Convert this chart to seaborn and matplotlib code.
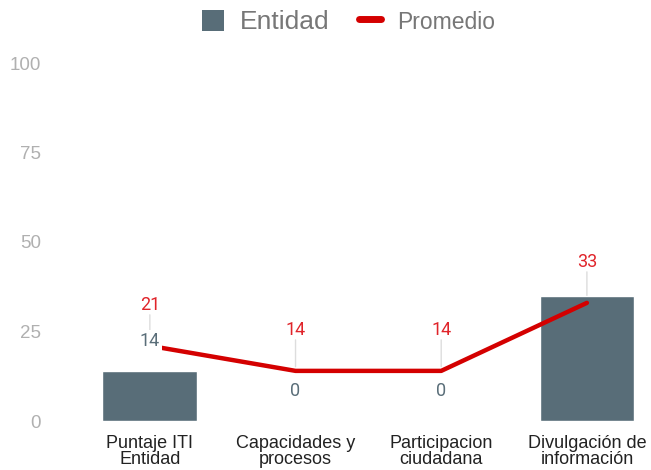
import matplotlib
matplotlib.use("Agg")
import matplotlib.pyplot as plt
from matplotlib.lines import Line2D
from matplotlib.patches import Patch
import seaborn as sns
import pandas as pd

categorias = ["Puntaje ITI\nEntidad", "Capacidades y\nprocesos",
              "Participacion\nciudadana", "Divulgación de\ninformación"]
entidad = [14, 0, 0, 35]
promedio = [21, 14, 14, 33]
etiquetas_entidad = ["14", "0", "0", None]
yticks = [0, 25, 50, 75, 100]

color_bar = "#586d78"
color_line = "#d40000"
color_red_text = "#e0242a"

sns.set_theme(style="white")
plt.rcParams["font.family"] = ["Liberation Sans", "DejaVu Sans"]

fig = plt.figure(figsize=(6.51, 4.70), dpi=100)
ax = fig.add_axes([77 / 651, 49 / 470, 1 - 77 / 651, (421 - 63) / 470])

df = pd.DataFrame({"cat": categorias, "entidad": entidad})
sns.barplot(data=df, x="cat", y="entidad", color=color_bar, width=0.65,
            saturation=1, ax=ax, zorder=2)
sns.lineplot(x=list(range(len(promedio))), y=promedio, color=color_line,
             linewidth=3.2, ax=ax, zorder=4)

ax.set_xlim(-0.5, 3.44)
ax.set_ylim(0, 100)
ax.set_yticks(yticks)
ax.set_yticklabels([str(t) for t in yticks], color="#b0b0b0", fontsize=13.5)
ax.tick_params(axis="y", pad=26, length=0)
ax.tick_params(axis="x", length=0, pad=10, labelsize=13, labelcolor="#222222")
for t in ax.get_xticklabels():
    t.set_linespacing(0.95)
ax.set_xlabel("")
ax.set_ylabel("")
for s in ax.spines.values():
    s.set_visible(False)
ax.grid(False)

# value labels for the average line, with light leader lines
for i, v in enumerate(promedio):
    ax.annotate(str(v), xy=(i, v), xytext=(0, 41), textcoords="offset pixels",
                ha="center", va="center", color=color_red_text, fontsize=13,
                family=["Roboto", "DejaVu Sans"], zorder=5)
    ax.annotate("", xy=(i, v), xytext=(0, 31), textcoords="offset pixels",
                arrowprops=dict(arrowstyle="-", color="#dddddd", lw=1,
                                shrinkA=0, shrinkB=3), zorder=1)

# value labels for the bars
for i, (v, lab) in enumerate(zip(entidad, etiquetas_entidad)):
    if lab is None:
        continue
    ax.annotate(lab, xy=(i, v), xytext=(0, 30), textcoords="offset pixels",
                ha="center", va="center", color="#5a6e79", fontsize=13,
                family=["Roboto", "DejaVu Sans"], zorder=6,
                bbox=dict(boxstyle="square,pad=0.1", fc="white", ec="none"))

handles = [Patch(facecolor=color_bar, edgecolor="none"),
           Line2D([0], [0], color=color_line, linewidth=5)]
leg = fig.legend(handles, ["Entidad", "Promedio"], loc="center",
                 bbox_to_anchor=(0.535, 1 - 22 / 470), ncol=2, frameon=False,
                 handlelength=0.85, handleheight=0.85, columnspacing=1.1,
                 handletextpad=0.6, prop={"size": 19}, borderpad=0)
leg.get_texts()[0].set_fontsize(19)
leg.get_texts()[1].set_fontsize(16.5)
for t in leg.get_texts():
    t.set_color("#777777")

fig.savefig("out.png", dpi=100)
